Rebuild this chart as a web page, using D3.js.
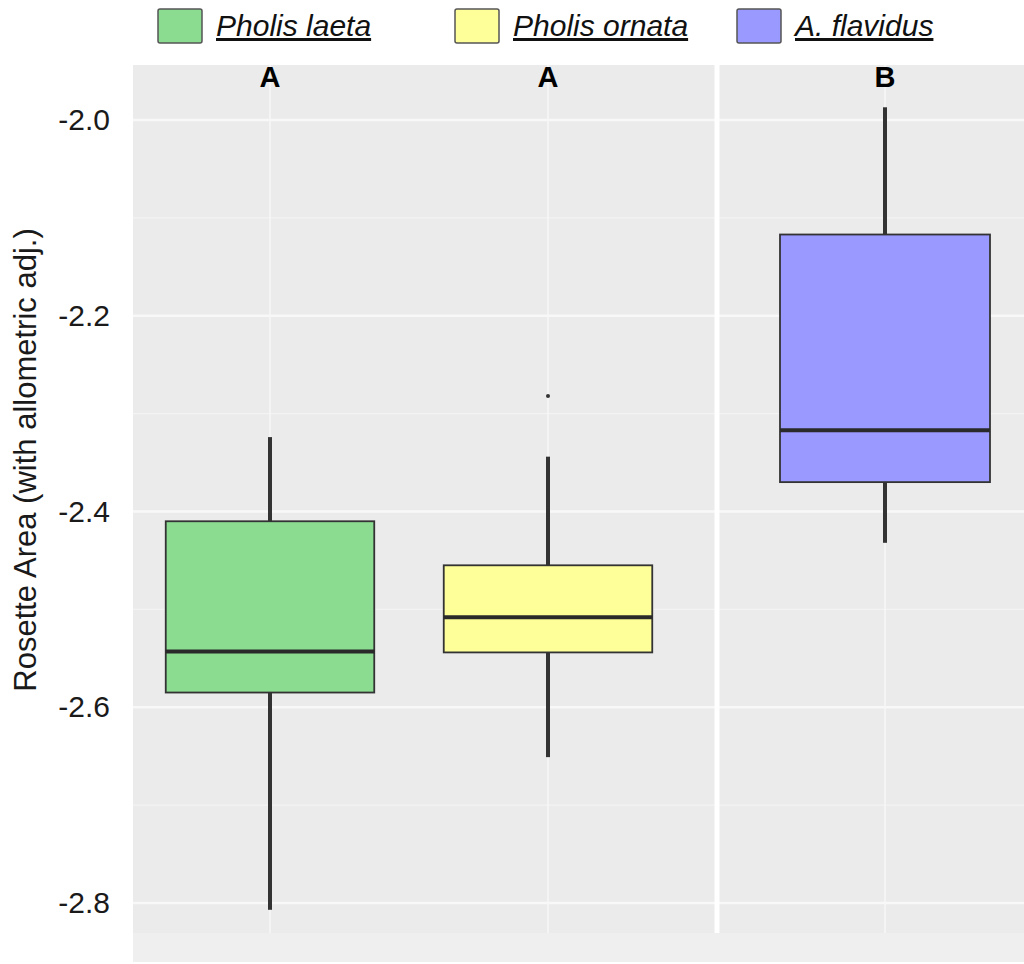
<!DOCTYPE html>
<html>
<head>
<meta charset="utf-8">
<script src="https://cdn.jsdelivr.net/npm/d3@7"></script>
<style>
  body { margin: 0; background: #fff; }
  text { font-family: "Liberation Sans", Arial, sans-serif; }
</style>
</head>
<body>
<div id="chart"></div>
<script>
// data
var species = ["Pholis laeta", "Pholis ornata", "A. flavidus"];
var groups = ["A", "A", "B"];
var whiskerHigh = [-2.324, -2.344, -1.987];
var q3 = [-2.410, -2.455, -2.117];
var medians = [-2.543, -2.508, -2.317];
var q1 = [-2.585, -2.544, -2.370];
var whiskerLow = [-2.807, -2.651, -2.432];
var outliers = [[], [-2.282], []];
var yTicks = [-2.0, -2.2, -2.4, -2.6, -2.8];
var yMinor = [-2.1, -2.3, -2.5, -2.7];
var fills = ["#8bdb91", "#ffff99", "#9999ff"];

var width = 1024, height = 964;
var panel = { left: 133, right: 1024, top: 65, bottom: 933 };

var svg = d3.select("#chart").append("svg")
    .attr("width", width)
    .attr("height", height);

var data = species.map(function(s, i) {
    return {
        name: s, group: groups[i], fill: fills[i],
        hi: whiskerHigh[i], q3: q3[i], med: medians[i], q1: q1[i], lo: whiskerLow[i],
        out: outliers[i]
    };
});

// scales
var y = d3.scaleLinear()
    .domain([-2.8307, -1.9438])
    .range([panel.bottom, panel.top]);

// one band scale per letter group (two facets)
var facetRange = { A: [131, 687], B: [745, 1025] };
var xScales = {};
["A", "B"].forEach(function(g) {
    xScales[g] = d3.scaleBand()
        .domain(data.filter(d => d.group == g).map(d => d.name))
        .range(facetRange[g])
        .paddingInner(0.25)
        .paddingOuter(0.125);
});
function xc(d) { var s = xScales[d.group]; return s(d.name) + s.bandwidth() / 2; }
function bw(d) { return xScales[d.group].bandwidth(); }

// panel background
svg.append("rect")
    .attr("x", panel.left).attr("y", panel.bottom)
    .attr("width", panel.right - panel.left).attr("height", 29)
    .attr("fill", "#efefef");
svg.append("rect")
    .attr("x", panel.left).attr("y", panel.top)
    .attr("width", panel.right - panel.left).attr("height", panel.bottom - panel.top)
    .attr("fill", "#ebebeb");

// grid
svg.append("g").selectAll("line")
    .data(yMinor).enter().append("line")
    .attr("x1", panel.left).attr("x2", panel.right)
    .attr("y1", d => y(d)).attr("y2", d => y(d))
    .attr("stroke", "#f3f3f3").attr("stroke-width", 1.2);
svg.append("g").selectAll("line")
    .data(yTicks).enter().append("line")
    .attr("x1", panel.left).attr("x2", panel.right)
    .attr("y1", d => y(d)).attr("y2", d => y(d))
    .attr("stroke", "#f8f8f8").attr("stroke-width", 2.5);
svg.append("g").selectAll("line")
    .data(data).enter().append("line")
    .attr("x1", d => xc(d)).attr("x2", d => xc(d))
    .attr("y1", panel.top).attr("y2", panel.bottom)
    .attr("stroke", "#f7f7f7").attr("stroke-width", 1.5);

// facet divider
svg.append("line")
    .attr("x1", 717).attr("x2", 717)
    .attr("y1", panel.top).attr("y2", panel.bottom)
    .attr("stroke", "#ffffff").attr("stroke-width", 5);

// y axis
var yAxis = svg.append("g")
    .attr("transform", `translate(${panel.left}, 0)`)
    .call(d3.axisLeft(y).tickValues(yTicks).tickFormat(d => d.toFixed(1)).tickSize(0).tickPadding(23));
yAxis.select(".domain").remove();
yAxis.selectAll("text")
    .attr("font-size", 30)
    .attr("font-family", "'Liberation Sans', Arial, sans-serif")
    .attr("fill", "#1a1a1a");

svg.append("text")
    .attr("transform", "translate(36, 460) rotate(-90)")
    .attr("text-anchor", "middle")
    .attr("font-size", 31)
    .attr("fill", "#1a1a1a")
    .text("Rosette Area (with allometric adj.)");

// boxes
var box = svg.append("g").selectAll("g")
    .data(data).enter().append("g");

box.append("line")
    .attr("x1", d => xc(d)).attr("x2", d => xc(d))
    .attr("y1", d => y(d.hi)).attr("y2", d => y(d.q3))
    .attr("stroke", "#333").attr("stroke-width", 4);
box.append("line")
    .attr("x1", d => xc(d)).attr("x2", d => xc(d))
    .attr("y1", d => y(d.q1)).attr("y2", d => y(d.lo))
    .attr("stroke", "#333").attr("stroke-width", 4);
box.append("rect")
    .attr("x", d => xc(d) - bw(d) / 2)
    .attr("width", d => bw(d))
    .attr("y", d => y(d.q3))
    .attr("height", d => y(d.q1) - y(d.q3))
    .attr("fill", d => d.fill)
    .attr("stroke", "#333").attr("stroke-width", 1.8);
box.append("line")
    .attr("x1", d => xc(d) - bw(d) / 2).attr("x2", d => xc(d) + bw(d) / 2)
    .attr("y1", d => y(d.med)).attr("y2", d => y(d.med))
    .attr("stroke", "#2a2a2a").attr("stroke-width", 4);
box.selectAll("circle")
    .data(d => d.out.map(v => ({ v: v, d: d }))).enter().append("circle")
    .attr("cx", o => xc(o.d)).attr("cy", o => y(o.v))
    .attr("r", 2).attr("fill", "#333");

// group letters
svg.append("g").selectAll("text")
    .data(data).enter().append("text")
    .attr("x", d => xc(d)).attr("y", 87)
    .attr("text-anchor", "middle")
    .attr("font-size", 29)
    .attr("font-weight", "bold")
    .attr("fill", "#000")
    .text(d => d.group);

// legend
var legendX = [158, 455, 737];
var legend = svg.append("g").selectAll("g")
    .data(data).enter().append("g")
    .attr("transform", (d, i) => `translate(${legendX[i]}, 9)`);
legend.append("rect")
    .attr("width", 44).attr("height", 34).attr("rx", 2)
    .attr("fill", d => d.fill)
    .attr("stroke", "#555").attr("stroke-width", 1.5);
legend.append("text")
    .attr("x", 58).attr("y", 27)
    .attr("font-size", 30)
    .attr("font-style", "italic")
    .attr("text-decoration", "underline")
    .attr("fill", "#111")
    .text(d => d.name);
</script>
</body>
</html>
